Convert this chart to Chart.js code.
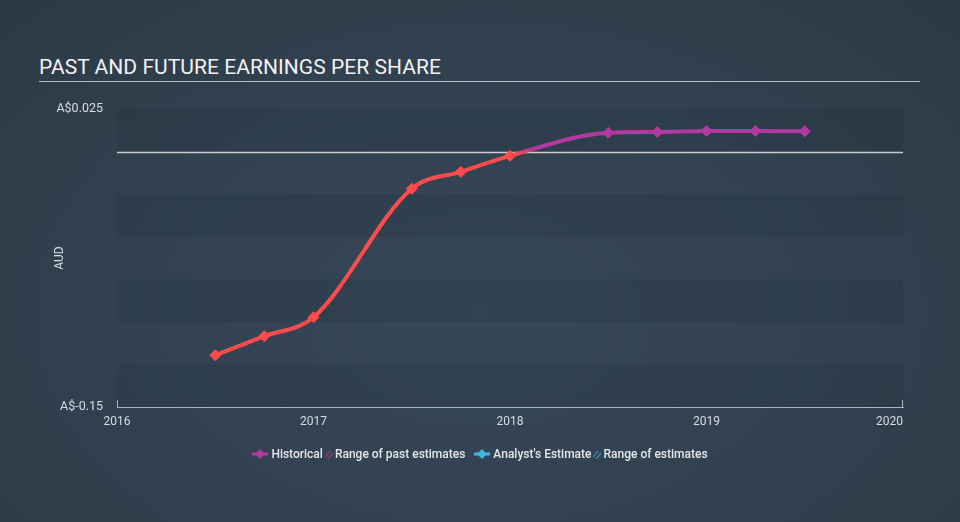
<!DOCTYPE html>
<html>
<head>
<meta charset="utf-8">
<script src="https://cdn.jsdelivr.net/npm/chart.js@4/dist/chart.umd.min.js"></script>
<style>
  html, body { margin: 0; padding: 0; }
  body {
    width: 960px; height: 522px; overflow: hidden; position: relative;
    background: radial-gradient(ellipse at 50% 60%, #364757 0%, #324150 55%, #2d3945 100%);
    font-family: Roboto, "Open Sans", sans-serif;
  }
  #title {
    position: absolute; left: 39px; top: 56px; width: 881px;
    color: #f2f2f2; font-size: 21px; letter-spacing: 0.05px;
    border-bottom: 1px solid #b9bdc2; padding-bottom: 3px; line-height: 22px;
  }
  #wrap { position: absolute; left: 0; top: 0; width: 960px; height: 522px; }
  #legend {
    position: absolute; left: 0; width: 960px; top: 446px; text-align: center;
    color: #e6e8ea; font-size: 12px; font-weight: 500; white-space: nowrap;
  }
  #legend span, #legend svg { vertical-align: middle; }
  #legend svg.rayas { margin: 0 2px; }
  .gap { display: inline-block; width: 3px; }
</style>
</head>
<body>
<div id="title">PAST AND FUTURE EARNINGS PER SHARE</div>
<div id="wrap"><canvas id="epsChart" width="960" height="522"></canvas></div>
<div id="legend">
  <svg width="16" height="10"><rect x="0" y="3.5" width="16" height="3" fill="#b03aa0"/><polygon points="8,0 13,5 8,10 3,5" fill="#b03aa0"/></svg>
  <span>Historical</span><svg class="rayas" width="8" height="10"><line x1="0" y1="8" x2="5" y2="2" stroke="#8e3a86" stroke-width="1.2"/><line x1="3" y1="10" x2="8" y2="4" stroke="#8e3a86" stroke-width="1.2"/></svg><span>Range of past estimates</span>
  <span class="gap"></span>
  <svg width="16" height="10"><rect x="0" y="3.5" width="16" height="3" fill="#3fb6e2"/><polygon points="8,0 13,5 8,10 3,5" fill="#3fb6e2"/></svg>
  <span>Analyst's Estimate</span><svg class="rayas" width="8" height="10"><line x1="0" y1="8" x2="5" y2="2" stroke="#3a8fb6" stroke-width="1.2"/><line x1="3" y1="10" x2="8" y2="4" stroke="#3a8fb6" stroke-width="1.2"/></svg><span>Range of estimates</span>
</div>
<script>
// EPS history (AUD)
const fechas = [2016.5, 2016.75, 2017.0, 2017.5, 2017.75, 2018.0, 2018.5, 2018.75, 2019.0, 2019.25, 2019.5];
const eps = [-0.1196, -0.1084, -0.0973, -0.0218, -0.0119, -0.0025, 0.0110, 0.0115, 0.0121, 0.0121, 0.0119];

const yMin = -0.15;
const yMax = 0.025;
const paso = 0.025;
const xTicks = [2016, 2017, 2018, 2019, 2020];

const ROJO = '#ff4b4b';
const MORADO = '#b03aa0';
const TEXTO = '#d9dde1';
const EJE = '#aeb5bd';

// color del trazo: morado arriba de cero, rojo abajo
function colorLinea(context) {
    const chart = context.chart;
    const area = chart.chartArea;
    if (!area) return ROJO;
    const y0 = chart.scales.y.getPixelForValue(0);
    const s = Math.min(Math.max((y0 - area.top) / (area.bottom - area.top), 0.01), 0.99);
    const g = chart.ctx.createLinearGradient(0, area.top, 0, area.bottom);
    g.addColorStop(0, MORADO);
    g.addColorStop(s - 0.008, MORADO);
    g.addColorStop(s + 0.008, ROJO);
    g.addColorStop(1, ROJO);
    return g;
}

function colorPunto(context) {
    const v = context.raw ? context.raw.y : 0;
    return v < 0 ? ROJO : MORADO;
}

// bandas alternadas, linea de cero y marcas de los extremos del eje
const fondoPlugin = {
    id: 'fondo',
    beforeDatasetsDraw(chart) {
        const { ctx, chartArea: a, scales: { y } } = chart;
        ctx.save();
        let i = 0;
        for (let v = yMax; v > yMin + 1e-9; v -= paso) {
            if (i % 2 === 0) {
                const t = y.getPixelForValue(v);
                const b = y.getPixelForValue(v - paso);
                ctx.fillStyle = 'rgba(20, 30, 40, 0.12)';
                ctx.fillRect(a.left, t, a.right - a.left, b - t);
            }
            i++;
        }
        const y0 = Math.round(y.getPixelForValue(0)) + 0.5;
        ctx.strokeStyle = '#c9cdd1';
        ctx.lineWidth = 1.5;
        ctx.beginPath();
        ctx.moveTo(a.left, y0);
        ctx.lineTo(a.right, y0);
        ctx.stroke();

        ctx.strokeStyle = EJE;
        ctx.lineWidth = 1;
        ctx.beginPath();
        ctx.moveTo(a.left + 0.5, a.bottom);
        ctx.lineTo(a.left + 0.5, a.bottom - 7);
        ctx.moveTo(a.right - 0.5, a.bottom);
        ctx.lineTo(a.right - 0.5, a.bottom - 7);
        ctx.stroke();
        ctx.restore();
    }
};

const ctxEps = document.getElementById('epsChart').getContext('2d');

const epsChart = new Chart(ctxEps, {
    type: 'line',
    data: {
        datasets: [{
            label: 'Historical',
            data: fechas.map((f, i) => ({ x: f, y: eps[i] })),
            borderColor: colorLinea,
            borderWidth: 4,
            cubicInterpolationMode: 'monotone',
            pointStyle: 'rectRot',
            pointRadius: 5.5,
            pointBackgroundColor: colorPunto,
            pointBorderColor: colorPunto,
            pointBorderWidth: 1,
            fill: false
        }]
    },
    options: {
        responsive: false,
        animation: false,
        layout: { padding: { left: 0, right: 57, top: 109, bottom: 0 } },
        plugins: {
            legend: { display: false },
            tooltip: { enabled: false }
        },
        scales: {
            x: {
                type: 'linear',
                min: 2016,
                max: 2020,
                afterFit(scale) { scale.height = 115; },
                afterBuildTicks(scale) { scale.ticks = xTicks.map(v => ({ value: v })); },
                grid: { display: false, drawTicks: false },
                border: { display: true, color: EJE, width: 1 },
                ticks: {
                    color: TEXTO,
                    font: { family: 'Roboto', size: 12 },
                    padding: 8,
                    maxRotation: 0,
                    // la ultima etiqueta va alineada a la derecha del eje
                    callback: v => v === 2020 ? '2020' + '\u00a0'.repeat(9) : String(v)
                }
            },
            y: {
                min: yMin,
                max: yMax,
                afterFit(scale) { scale.width = 117; },
                afterBuildTicks(scale) { scale.ticks = [{ value: yMin }, { value: yMax }]; },
                grid: { display: false, drawTicks: false },
                border: { display: false },
                ticks: {
                    color: TEXTO,
                    font: { family: 'Roboto', size: 12.5 },
                    padding: 14,
                    callback: v => 'A$' + (v === yMax ? '0.025' : '-0.15')
                },
                title: {
                    display: true,
                    text: 'AUD',
                    color: TEXTO,
                    font: { family: 'Roboto', size: 12 },
                    padding: { top: 53, bottom: 0 }
                }
            }
        }
    },
    plugins: [fondoPlugin]
});
</script>
</body>
</html>
